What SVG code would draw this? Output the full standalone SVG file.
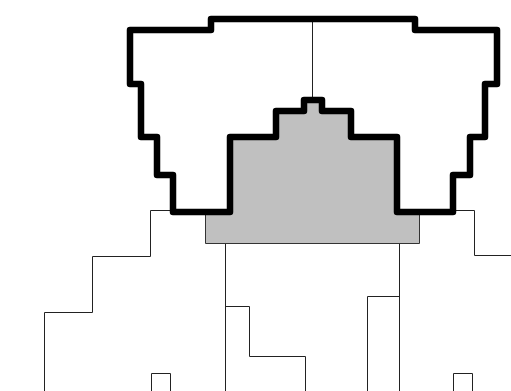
<svg xmlns="http://www.w3.org/2000/svg" width="511" height="391" viewBox="0 0 511 391">
<style>
.thin{fill:none;stroke:#222;stroke-width:1}
.thick{fill:none;stroke:#000;stroke-width:6.5;stroke-linejoin:round;stroke-linecap:round}
.gray{fill:#c0c0c0;stroke:#333;stroke-width:1}
</style>
<rect width="511" height="391" fill="#fff"/>
<g id="lower-lines">
<path class="thin" d="M173,210.5 H150.5 V256.5 H92.5 V312.5 H44.5 V391"/>
<path class="thin" d="M453,210.5 H474.5 V255.5 H511"/>
<path class="thin" d="M225.5,243 V391 M225.5,306.5 H249.5 V356.5 H305.5 V391"/>
<path class="thin" d="M399.5,243 V391 M399.5,296.5 H367.5 V391"/>
<path class="thin" d="M151.5,391 V373.5 H170.5 V391"/>
<path class="thin" d="M453.5,391 V373.5 H472.5 V391"/>
</g>
<g id="gray-block">
<path class="gray" d="M205.5,212 H230 V137 H276 V111 H304 V100 H322 V111 H351 V137 H397 V212 H419.5 V243.5 H205.5 Z"/>
</g>
<g id="center-line">
<path class="thin" d="M312.5,19 V100"/>
</g>
<g id="outline">
<path class="thick" d="M313,19 H211 V30 H130 V84 H141 V137 H157 V175 H173 V212 H230 V137 H276 V111 H304 V100 H322 V111 H351 V137 H397 V212 H453 V175 H470 V137 H485 V84 H497 V30 H415 V19 Z"/>
</g>
</svg>
